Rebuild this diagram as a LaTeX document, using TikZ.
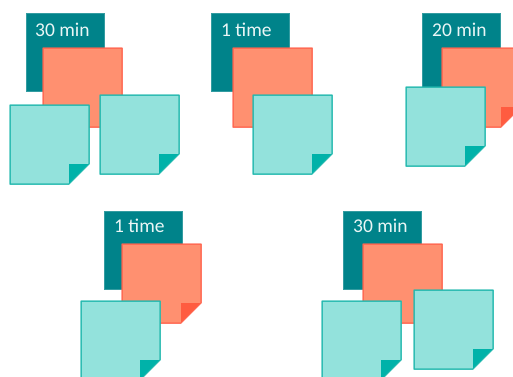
\documentclass[tikz,border=0pt]{standalone}
\usepackage{fontspec}
\setmainfont{Carlito}
\definecolor{darkteal}{HTML}{00838A}
\definecolor{salmonfill}{HTML}{FF9070}
\definecolor{salmonline}{HTML}{FF6650}
\definecolor{salmonfold}{HTML}{FF5C40}
\definecolor{lightfill}{HTML}{93E2DC}
\definecolor{lightline}{HTML}{22B8AE}
\definecolor{lightfold}{HTML}{00B2A9}
\definecolor{labeltext}{HTML}{EAF6F6}
\newcommand{\stickynote}[5]{%
  \fill[#3,draw=#4,line width=1pt] (#1,#2) -- ++(79,0) -- ++(0,59) -- ++(-20,20) -- ++(-59,0) -- cycle;
  \fill[#5] (#1+59,#2+79) -- (#1+59,#2+59) -- (#1+79,#2+59) -- cycle;
  \draw[#4,line width=1pt,line join=round] (#1,#2) -- ++(79,0) -- ++(0,59) -- ++(-20,20) -- ++(-59,0) -- cycle;}
\newcommand{\darknote}[1]{\fill[darkteal,draw=darkteal!80!white,line width=0.6pt] (#1) rectangle ++(78,78);}
\tikzset{lbl/.style={anchor=base west,inner sep=0pt,text=labeltext,font=\fontsize{19.5}{22}\selectfont}}
\begin{document}
\begin{tikzpicture}[x=1pt,y=-1pt]
\useasboundingbox (0,0) rectangle (513,376);
\clip (0,0) rectangle (513,376);
% group 1
\darknote{26,13}
\node[lbl] (t1) at (35,36) {30 min};
\stickynote{43}{48}{salmonfill}{salmonline}{salmonfold}
\stickynote{10}{105}{lightfill}{lightline}{lightfold}
\stickynote{100}{95}{lightfill}{lightline}{lightfold}
% group 2
\darknote{211,13}
\node[lbl] (t2) at (221,36) {1 time};
\stickynote{233}{48}{salmonfill}{salmonline}{salmonfold}
\stickynote{253}{95}{lightfill}{lightline}{lightfold}
% group 3
\darknote{422,13}
\node[lbl] (t3) at (432,36) {20 min};
\stickynote{442}{48}{salmonfill}{salmonline}{salmonfold}
\stickynote{406}{87}{lightfill}{lightline}{lightfold}
% group 4
\darknote{104,211}
\node[lbl] (t4) at (114,232) {1 time};
\stickynote{122}{244}{salmonfill}{salmonline}{salmonfold}
\stickynote{81}{301}{lightfill}{lightline}{lightfold}
% group 5
\darknote{343,211}
\node[lbl] (t5) at (353,232) {30 min};
\stickynote{363}{244}{salmonfill}{salmonline}{salmonfold}
\stickynote{322}{301}{lightfill}{lightline}{lightfold}
\stickynote{414}{290}{lightfill}{lightline}{lightfold}
\end{tikzpicture}
\end{document}
